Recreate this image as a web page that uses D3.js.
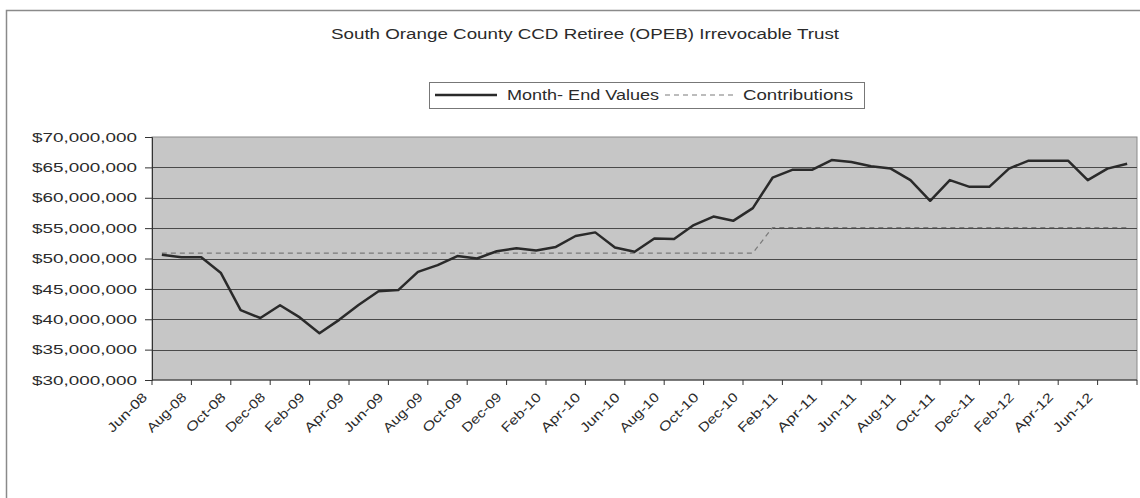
<!DOCTYPE html>
<html>
<head>
<meta charset="utf-8">
<script src="https://cdn.jsdelivr.net/npm/d3@7"></script>
<style>
  body { margin: 0; background: #fff; }
  text { font-family: "Liberation Sans", Arial, sans-serif; fill: #2b2b2b; }
</style>
</head>
<body>
<div id="wrapper"></div>
<script>
// month labels, Jun-08 .. Jul-12
const months = [
  "Jun-08","Jul-08","Aug-08","Sep-08","Oct-08","Nov-08","Dec-08",
  "Jan-09","Feb-09","Mar-09","Apr-09","May-09","Jun-09","Jul-09","Aug-09","Sep-09","Oct-09","Nov-09","Dec-09",
  "Jan-10","Feb-10","Mar-10","Apr-10","May-10","Jun-10","Jul-10","Aug-10","Sep-10","Oct-10","Nov-10","Dec-10",
  "Jan-11","Feb-11","Mar-11","Apr-11","May-11","Jun-11","Jul-11","Aug-11","Sep-11","Oct-11","Nov-11","Dec-11",
  "Jan-12","Feb-12","Mar-12","Apr-12","May-12","Jun-12","Jul-12"
]

// month-end values, $ millions
const monthEndValues = [
  50.6, 50.2, 50.2, 47.6, 41.5, 40.2, 42.3,
  40.3, 37.7, 39.9, 42.4, 44.6, 44.8, 47.8, 48.9, 50.4, 50.0, 51.2, 51.7,
  51.3, 51.9, 53.7, 54.3, 51.8, 51.1, 53.3, 53.2, 55.5, 56.9, 56.2, 58.3,
  63.3, 64.6, 64.6, 66.2, 65.9, 65.2, 64.8, 62.9, 59.5, 62.9, 61.8, 61.8,
  64.8, 66.1, 66.1, 66.1, 62.9, 64.8, 65.6
]

// cumulative contributions, $ millions
const contributions = [
  50.9, 50.9, 50.9, 50.9, 50.9, 50.9, 50.9,
  50.9, 50.9, 50.9, 50.9, 50.9, 50.9, 50.9, 50.9, 50.9, 50.9, 50.9, 50.9,
  50.9, 50.9, 50.9, 50.9, 50.9, 50.9, 50.9, 50.9, 50.9, 50.9, 50.9, 50.9,
  55.1, 55.1, 55.1, 55.1, 55.1, 55.1, 55.1, 55.1, 55.1, 55.1, 55.1, 55.1,
  55.1, 55.1, 55.1, 55.1, 55.1, 55.1, 55.1
]

const yTicks = [30, 35, 40, 45, 50, 55, 60, 65, 70]
const labelMonths = months.filter((m, i) => i % 2 == 0)

const titleText = "South Orange County CCD Retiree (OPEB) Irrevocable Trust"
const seriesNames = ["Month- End Values", "Contributions"]

function drawLineChart() {

  let dimensions = {
    width: 1140,
    height: 498,
    margin: {
      top: 137,
      right: 3,
      bottom: 118,
      left: 152,
    },
  }
  dimensions.boundedWidth = dimensions.width - dimensions.margin.left - dimensions.margin.right
  dimensions.boundedHeight = dimensions.height - dimensions.margin.top - dimensions.margin.bottom

  const xScale = d3.scaleBand()
    .domain(months)
    .range([0, dimensions.boundedWidth])
    .padding(0)

  const yScale = d3.scaleLinear()
    .domain([30, 70])
    .range([dimensions.boundedHeight, 0])

  const xCenter = (d, i) => xScale(months[i]) + xScale.bandwidth() / 2

  const svg = d3.select("#wrapper")
    .append("svg")
    .attr("width", dimensions.width)
    .attr("height", dimensions.height)

  // chart area border
  svg.append("rect")
    .attr("x", 6.5)
    .attr("y", 10.5)
    .attr("width", 1140)
    .attr("height", 500)
    .attr("fill", "#fff")
    .attr("stroke", "#8a8a8a")
    .attr("stroke-width", 1.5)

  svg.append("text")
    .attr("x", 331)
    .attr("y", 39)
    .attr("font-size", 14)
    .attr("textLength", 508)
    .attr("lengthAdjust", "spacingAndGlyphs")
    .text(titleText)

  // legend
  const legend = svg.append("g")
  legend.append("rect")
    .attr("x", 429.5).attr("y", 82.5)
    .attr("width", 435).attr("height", 26)
    .attr("fill", "#fff")
    .attr("stroke", "#777")
  legend.append("line")
    .attr("x1", 435).attr("x2", 497).attr("y1", 95).attr("y2", 95)
    .attr("stroke", "#2a2a2a").attr("stroke-width", 2.5)
  legend.append("text")
    .attr("x", 507).attr("y", 100)
    .attr("font-size", 14)
    .attr("textLength", 152)
    .attr("lengthAdjust", "spacingAndGlyphs")
    .text(seriesNames[0])
  legend.append("line")
    .attr("x1", 665).attr("x2", 737).attr("y1", 95).attr("y2", 95)
    .attr("stroke", "#7a7a7a").attr("stroke-width", 1.2)
    .attr("stroke-dasharray", "5,4")
  legend.append("text")
    .attr("x", 743).attr("y", 100)
    .attr("font-size", 14)
    .attr("textLength", 110)
    .attr("lengthAdjust", "spacingAndGlyphs")
    .text(seriesNames[1])

  const bounds = svg.append("g")
    .style("transform", `translate(${dimensions.margin.left}px, ${dimensions.margin.top}px)`)

  // plot area
  bounds.append("rect")
    .attr("width", dimensions.boundedWidth)
    .attr("height", dimensions.boundedHeight)
    .attr("fill", "#c6c6c6")
    .attr("stroke", "#8a8a8a")

  // gridlines
  bounds.append("g")
    .selectAll("line")
    .data(yTicks.slice(1, -1))
    .join("line")
    .attr("x1", 0)
    .attr("x2", dimensions.boundedWidth)
    .attr("y1", d => Math.round(yScale(d)) + 0.5)
    .attr("y2", d => Math.round(yScale(d)) + 0.5)
    .attr("stroke", "#4a4a4a")
    .attr("stroke-width", 1.2)

  // y axis
  const yAxisGenerator = d3.axisLeft()
    .scale(yScale)
    .tickValues(yTicks)
    .tickSize(7)
    .tickPadding(8)
    .tickFormat(d => "$" + d3.format(",")(d * 1000000))

  const yAxis = bounds.append("g")
    .call(yAxisGenerator)
  yAxis.select(".domain").attr("stroke", "#333")
  yAxis.selectAll(".tick line").attr("stroke", "#333")
  yAxis.selectAll("text")
    .attr("font-size", 13)
    .attr("fill", "#2b2b2b")
    .attr("textLength", 105)
    .attr("lengthAdjust", "spacingAndGlyphs")
    .attr("font-family", "Liberation Sans, Arial, sans-serif")

  // x axis line and ticks every 2 months
  const xAxis = bounds.append("g")
    .style("transform", `translateY(${dimensions.boundedHeight}px)`)
  xAxis.append("line")
    .attr("x1", 0).attr("x2", dimensions.boundedWidth)
    .attr("stroke", "#333")
  xAxis.selectAll(".xtick")
    .data(labelMonths.concat(["end"]))
    .join("line")
    .attr("class", "xtick")
    .attr("x1", d => d == "end" ? dimensions.boundedWidth : xScale(d))
    .attr("x2", d => d == "end" ? dimensions.boundedWidth : xScale(d))
    .attr("y1", 0).attr("y2", 5)
    .attr("stroke", "#333")

  xAxis.selectAll(".xlabel")
    .data(labelMonths)
    .join("text")
    .attr("class", "xlabel")
    .attr("font-size", 13)
    .attr("text-anchor", "end")
    .attr("textLength", 50)
    .attr("lengthAdjust", "spacingAndGlyphs")
    .attr("transform", d => `translate(${xScale(d) + xScale.bandwidth() / 2 - 14}, 18) rotate(-45)`)
    .text(d => d)

  // lines
  const contribLine = d3.line()
    .x(xCenter)
    .y(d => yScale(d))

  bounds.append("path")
    .attr("d", contribLine(contributions))
    .attr("fill", "none")
    .attr("stroke", "#7a7a7a")
    .attr("stroke-width", 1.2)
    .attr("stroke-dasharray", "5,4")

  bounds.append("path")
    .attr("d", contribLine(monthEndValues))
    .attr("fill", "none")
    .attr("stroke", "#2a2a2a")
    .attr("stroke-width", 2.5)
    .attr("stroke-linejoin", "round")
}

drawLineChart()
</script>
</body>
</html>
